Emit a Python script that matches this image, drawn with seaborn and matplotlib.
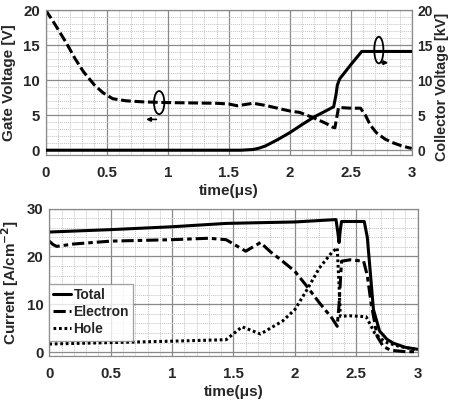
import matplotlib
matplotlib.use("Agg")
import matplotlib.pyplot as plt
import seaborn as sns
import numpy as np
import pandas as pd
from matplotlib.patches import Ellipse
from matplotlib.ticker import MultipleLocator

# ---------------- data ----------------
t_gate = [0, 0.05, 0.1, 0.17, 0.24, 0.31, 0.4, 0.47, 0.55, 0.66, 0.8, 1.0, 1.2, 1.4, 1.5,
          1.57, 1.7, 1.8, 1.9, 2.0, 2.08, 2.2, 2.3, 2.35, 2.37, 2.4, 2.5, 2.58, 2.62,
          2.66, 2.71, 2.78, 2.84, 2.92, 3.0]
v_gate = [20, 18.7, 17.3, 15.3, 13.1, 11.2, 9.3, 8.2, 7.35, 7.05, 6.9, 6.8, 6.75, 6.7, 6.6,
          6.35, 6.7, 6.4, 6.0, 5.6, 5.4, 4.6, 3.8, 3.3, 3.2, 6.1, 6.0, 6.0, 5.0,
          3.6, 2.5, 1.6, 1.1, 0.6, 0.25]

t_coll = [0, 1.6, 1.7, 1.75, 1.8, 1.9, 2.0, 2.1, 2.2, 2.3, 2.36, 2.38, 2.39, 2.41, 2.5, 2.59, 3.0]
v_coll = [0, 0, 0.1, 0.3, 0.6, 1.5, 2.5, 3.65, 4.75, 5.65, 6.2, 8.0, 9.3, 10.2, 12.2, 14.1, 14.1]

t_total = [0, 0.5, 1.0, 1.44, 1.8, 2.0, 2.335, 2.35, 2.36, 2.37, 2.38, 2.45, 2.565, 2.59,
           2.61, 2.64, 2.69, 2.75, 2.8, 2.9, 3.0]
i_total = [25.1, 25.6, 26.2, 26.9, 27.1, 27.2, 27.7, 25.0, 22.9, 25.5, 27.3, 27.3, 27.3, 24.0,
           18.0, 8.9, 4.4, 2.7, 1.9, 1.0, 0.6]

t_elec = [0, 0.03, 0.06, 0.2, 0.5, 1.0, 1.3, 1.44, 1.6, 1.72, 1.8, 1.9, 2.0, 2.1, 2.2, 2.3,
          2.345, 2.36, 2.38, 2.45, 2.56, 2.59, 2.62, 2.67, 2.72, 2.78, 2.9, 3.0]
i_elec = [23.2, 22.5, 22.1, 22.6, 23.2, 23.5, 23.8, 23.5, 21.1, 22.9, 21.0, 19.0, 16.9, 13.7,
          10.3, 7.2, 5.4, 10.0, 19.0, 19.3, 19.0, 16.0, 10.4, 3.3, 1.2, 0.4, 0.1, 0.1]

t_hole = [0, 0.5, 1.0, 1.44, 1.57, 1.72, 1.9, 2.0, 2.1, 2.2, 2.3, 2.345, 2.36, 2.37, 2.45,
          2.58, 2.62, 2.65, 2.7, 2.75, 2.85, 3.0]
i_hole = [1.7, 2.0, 2.3, 2.6, 5.3, 3.8, 6.5, 8.9, 13.1, 17.6, 20.8, 21.8, 14.0, 7.5, 7.6,
          7.4, 5.5, 4.0, 2.8, 2.0, 1.2, 0.5]

x_ticks = [0, 0.5, 1, 1.5, 2, 2.5, 3]
x_tick_labels = ["0", "0.5", "1", "1.5", "2", "2.5", "3"]
v_ticks = [0, 5, 10, 15, 20]
i_ticks = [0, 10, 20, 30]

# ---------------- style ----------------
sns.set_style("white")
plt.rcParams['font.family'] = ['Liberation Sans', 'DejaVu Sans']
plt.rcParams['font.weight'] = 'bold'
plt.rcParams['mathtext.default'] = 'bf'

TICK_FS = 10.8
LAB_FS = 11

fig = plt.figure(figsize=(4.52, 4.05), dpi=100)
ax1 = fig.add_axes([0.101, 0.617, 0.81, 0.358])
ax3 = fig.add_axes([0.109, 0.121, 0.815, 0.364])

def style_grid(ax, ymin, ymax, yminor):
    ax.set_xlim(0, 3)
    ax.set_ylim(ymin, ymax)
    ax.xaxis.set_minor_locator(MultipleLocator(0.1))
    ax.yaxis.set_minor_locator(MultipleLocator(yminor))
    ax.grid(True, which='major', color='#8a8a8a', lw=0.9, ls='-')
    ax.grid(True, which='minor', color='#c4c4c4', lw=0.7, ls=(0, (1, 1)))
    ax.set_axisbelow(True)
    ax.tick_params(which='both', length=0, labelsize=TICK_FS)
    ax.tick_params(axis='x', pad=8)
    ax.tick_params(axis='y', pad=4)
    for s in ax.spines.values():
        s.set_color('#8a8a8a')
        s.set_linewidth(0.9)
    ax.set_xticks(x_ticks)
    ax.set_xticklabels(x_tick_labels, fontweight='bold')

# ---------------- top panel ----------------
style_grid(ax1, -0.7, 20, 1)
ax1.set_yticks(v_ticks)
ax1.set_yticklabels([str(v) for v in v_ticks], fontweight='bold')
sns.lineplot(x=t_gate, y=v_gate, ax=ax1, color='black', lw=2.2, sort=False,
             dashes=False, linestyle=(0, (3.2, 1.2)))
ax1.set_ylabel("Gate Voltage [V]", fontsize=LAB_FS, fontweight='bold', labelpad=5)
ax1.set_xlabel("time(μs)", fontsize=LAB_FS, fontweight='bold', labelpad=3)

ax2 = ax1.twinx()
ax2.set_ylim(-0.7, 20)
ax2.set_yticks(v_ticks)
ax2.set_yticklabels([str(v) for v in v_ticks], fontweight='bold')
ax2.tick_params(length=0, labelsize=10, pad=4)
for s in ax2.spines.values():
    s.set_visible(False)
sns.lineplot(x=t_coll, y=v_coll, ax=ax2, color='black', lw=2.2, sort=False)
ax2.set_ylabel("Collector Voltage [kV]", fontsize=10.4, fontweight='bold')
ax2.yaxis.set_label_coords(1.064, 0.47)

# ellipse annotations
ax1.add_patch(Ellipse((0.93, 6.8), 0.085, 3.3, fill=False, ec='black', lw=1.3))
ax1.annotate("", xy=(0.8, 4.4), xytext=(0.93, 4.4),
             arrowprops=dict(arrowstyle='-|>', color='black', lw=1.2, mutation_scale=6))
ax2.add_patch(Ellipse((2.73, 14.3), 0.075, 3.8, fill=False, ec='black', lw=1.3))
ax2.annotate("", xy=(2.83, 12.5), xytext=(2.73, 12.5),
             arrowprops=dict(arrowstyle='-|>', color='black', lw=1.2, mutation_scale=6))

# ---------------- bottom panel ----------------
style_grid(ax3, -0.8, 30, 2)
ax3.set_yticks(i_ticks)
ax3.set_yticklabels([str(v) for v in i_ticks], fontweight='bold')
sns.lineplot(x=t_total, y=i_total, ax=ax3, color='black', lw=2.2, sort=False, label='Total')
sns.lineplot(x=t_elec, y=i_elec, ax=ax3, color='black', lw=2.2, sort=False,
             linestyle=(0, (4, 1.3, 1.5, 1.3)), label='Electron')
sns.lineplot(x=t_hole, y=i_hole, ax=ax3, color='black', lw=2.2, sort=False,
             linestyle=(0, (0.9, 0.9)), label='Hole')
ax3.set_ylabel(r"Current [A/cm$^{-2}$]", fontsize=LAB_FS, fontweight='bold', labelpad=4)
ax3.set_xlabel("time(μs)", fontsize=LAB_FS, fontweight='bold', labelpad=3)
leg = ax3.legend(loc='lower left', bbox_to_anchor=(0.0, 0.105), fontsize=10,
                 handlelength=1.3, handletextpad=0.15, borderpad=0.3, labelspacing=0.22,
                 frameon=True, fancybox=False, borderaxespad=0)
leg.get_frame().set_edgecolor('#8a8a8a')
leg.get_frame().set_linewidth(0.9)
for txt in leg.get_texts():
    txt.set_fontweight('bold')

fig.savefig("out.png", dpi=100)
